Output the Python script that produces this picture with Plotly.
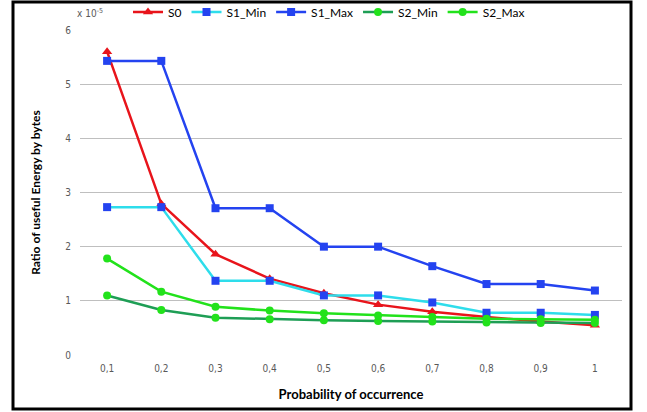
import plotly.graph_objects as go

categories = ["0,1", "0,2", "0,3", "0,4", "0,5", "0,6", "0,7", "0,8", "0,9", "1"]
s0 = [5.60, 2.79, 1.86, 1.41, 1.14, 0.93, 0.80, 0.70, 0.62, 0.55]
s1_min = [2.73, 2.73, 1.37, 1.37, 1.10, 1.10, 0.97, 0.78, 0.78, 0.74]
s1_max = [5.43, 5.43, 2.71, 2.71, 2.00, 2.00, 1.64, 1.31, 1.31, 1.19]
s2_min = [1.10, 0.83, 0.69, 0.66, 0.64, 0.63, 0.62, 0.60, 0.59, 0.59]
s2_max = [1.78, 1.17, 0.89, 0.82, 0.77, 0.73, 0.70, 0.67, 0.66, 0.65]
y_ticks = [0, 1, 2, 3, 4, 5, 6]

fig = go.Figure()

def add(name, vals, line_color, marker_color, symbol, size):
    fig.add_trace(go.Scatter(
        x=categories, y=vals, name=name, mode="lines+markers",
        line=dict(color=line_color, width=2.5),
        marker=dict(color=marker_color, symbol=symbol, size=size),
    ))

add("S0", s0, "#E8141B", "#E8141B", "triangle-up", 9)
add("S1_Min", s1_min, "#2EDDEB", "#2443F0", "square", 8)
add("S1_Max", s1_max, "#2443F0", "#2443F0", "square", 8)
add("S2_Min", s2_min, "#1E9E55", "#22E21B", "circle", 8)
add("S2_Max", s2_max, "#22E21B", "#22E21B", "circle", 8)

tick_font = dict(family="Liberation Sans Narrow, DejaVu Sans Condensed, sans-serif", size=10, color="#595959")
title_font = dict(family="Lato, sans-serif", size=13, color="#000000")

fig.update_layout(
    width=647, height=412,
    margin=dict(l=80, r=25, t=30, b=57, autoexpand=False),
    paper_bgcolor="white", plot_bgcolor="white",
    showlegend=True,
    legend=dict(orientation="h", x=(128 - 80) / 542, xanchor="left",
                y=(355 - 12) / 325, yanchor="middle",
                font=dict(family="Lato, sans-serif", size=12, color="#000000"),
                itemwidth=30, tracegroupgap=0,
                bgcolor="rgba(0,0,0,0)"),
    xaxis=dict(type="category", range=[-0.5, 9.5], showgrid=False, zeroline=False,
               showline=False, ticks="", tickfont=tick_font, automargin=False,
               ticklabelstandoff=6,
               title=dict(text="<b>Probability of occurrence</b>", font=title_font, standoff=16)),
    yaxis=dict(range=[0, 6], tickvals=y_ticks, showgrid=True, gridcolor="#BFBFBF", gridwidth=1,
               zeroline=False, showline=False, ticks="", tickfont=tick_font, automargin=False,
               ticklabelstandoff=8,
               title=dict(text="<b>Ratio of useful Energy by bytes</b>", font=dict(family="Lato, sans-serif", size=12, color="#000000"), standoff=22)),
    shapes=[dict(type="rect", xref="paper", yref="paper",
                 x0=(13 - 80) / 542, x1=(631 - 80) / 542,
                 y0=(355 - 409) / 325, y1=(355 - 2) / 325,
                 line=dict(color="black", width=3), fillcolor="rgba(0,0,0,0)", layer="above")],
    annotations=[dict(text="x 10<sup>-5</sup>", xref="paper", yref="paper",
                      x=(75 - 80) / 542, y=(355 - 13) / 325, xanchor="left", yanchor="middle",
                      showarrow=False, font=dict(family="Liberation Sans Narrow, DejaVu Sans Condensed, sans-serif", size=10, color="#595959"))],
)

fig.write_html("out.html", config={"displayModeBar": False},
               post_script="document.body.style.margin='0';")
